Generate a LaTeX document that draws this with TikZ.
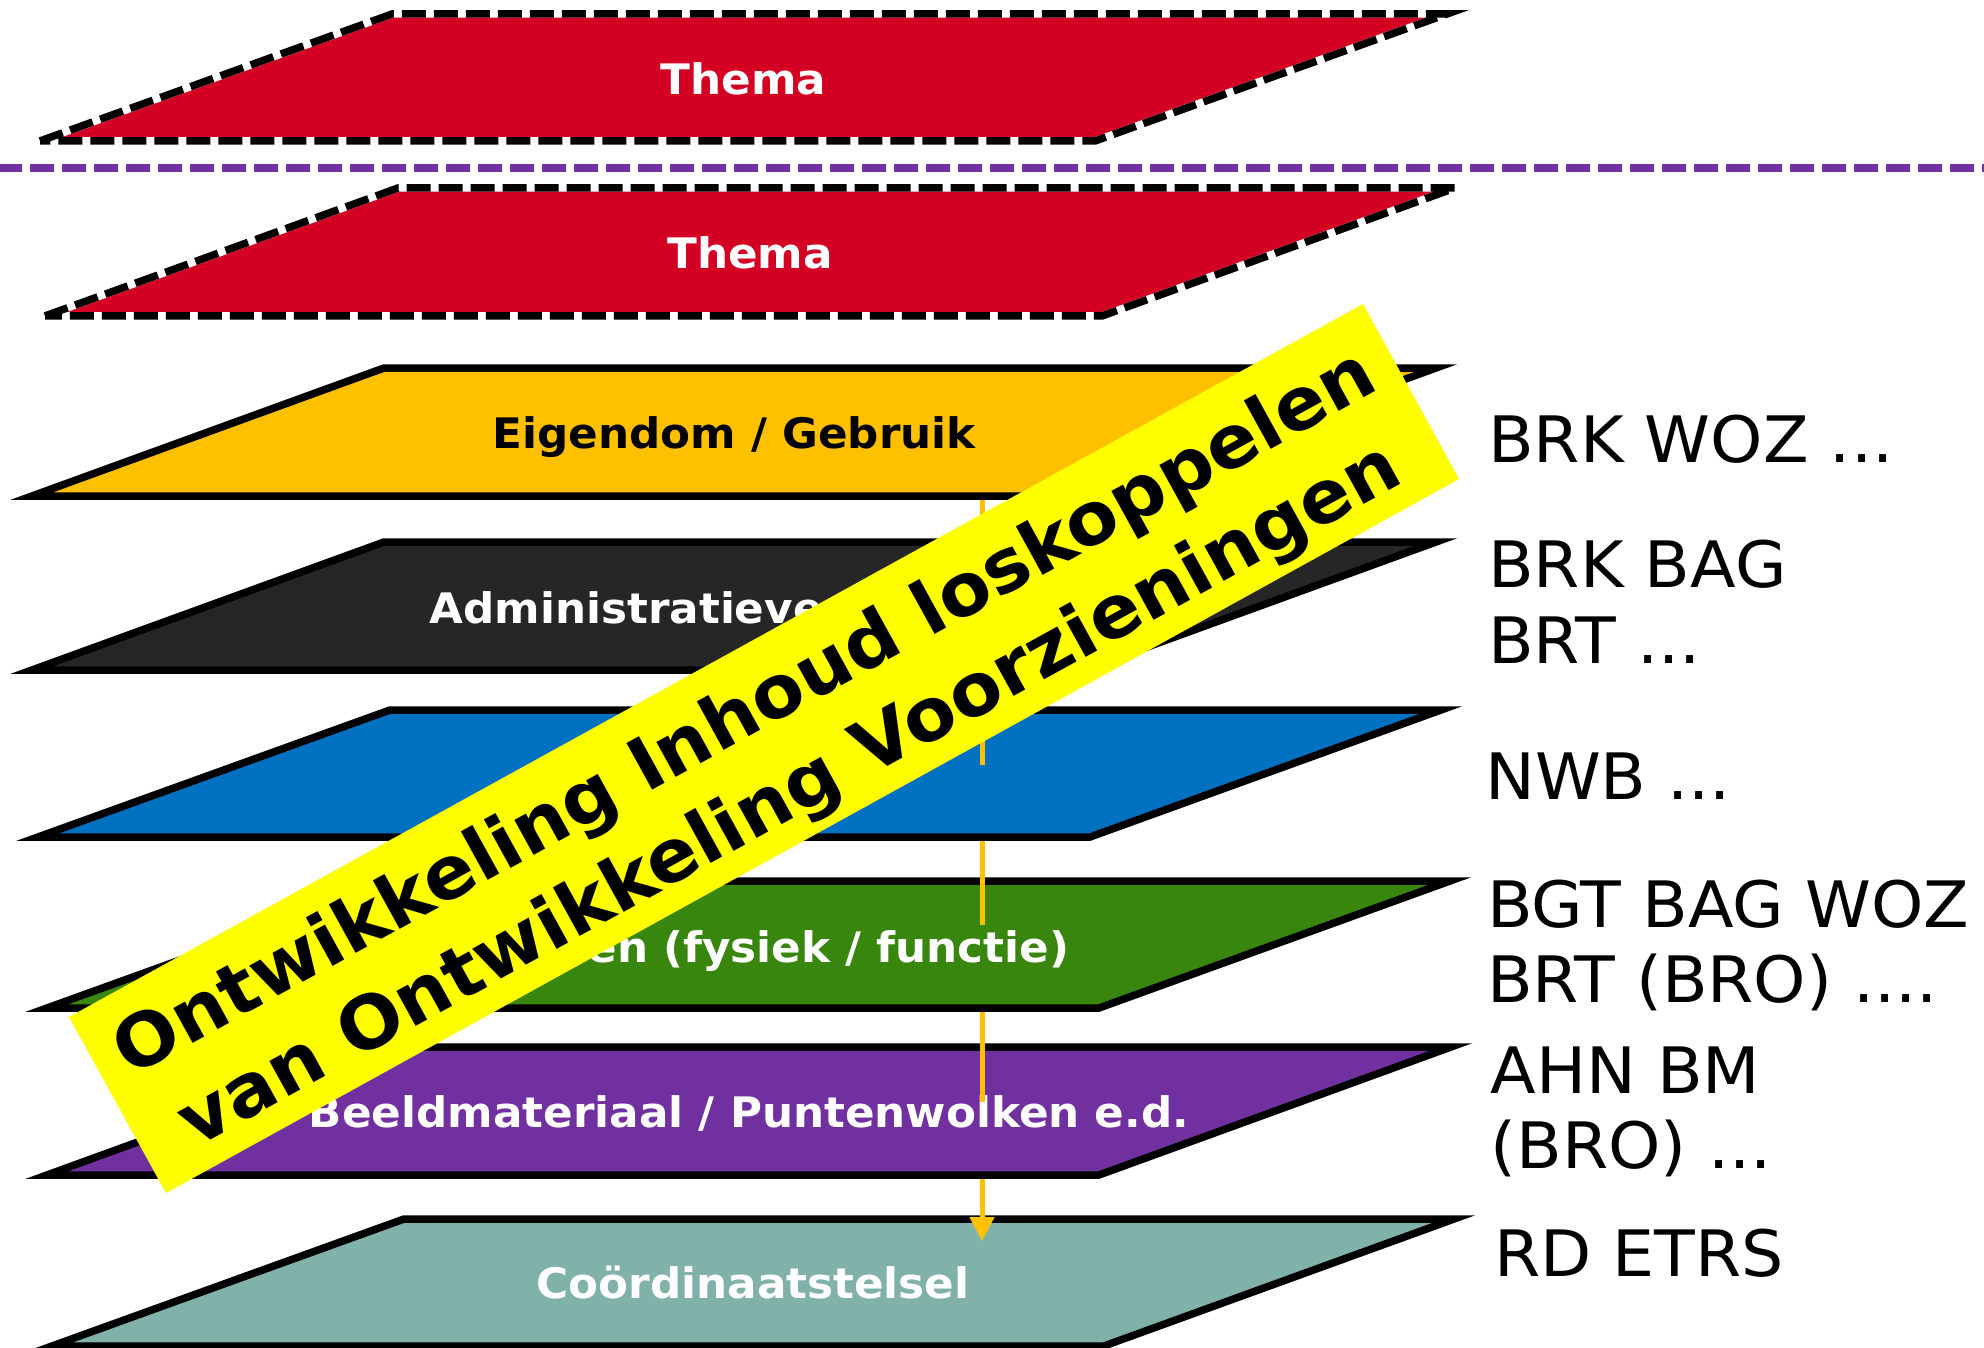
\documentclass[tikz,border=0pt]{standalone}
\usepackage{fontspec}
\setmainfont{DejaVu Sans}
\newfontfamily\widefont[FakeStretch=1.04]{DejaVu Sans}
\usetikzlibrary{arrows.meta}
\definecolor{themared}{HTML}{D40024}
\definecolor{eigorange}{HTML}{FFC000}
\definecolor{admdark}{HTML}{262626}
\definecolor{netblue}{HTML}{0070C0}
\definecolor{objgreen}{HTML}{38860E}
\definecolor{beeldpurple}{HTML}{7030A0}
\definecolor{coordteal}{HTML}{80B2A9}
\definecolor{banneryellow}{HTML}{FFFF00}
\begin{document}
\begin{tikzpicture}[x=1pt,y=-1pt,
  layer/.style={draw=black, line width=7.5pt, line join=miter},
  dashlayer/.style={fill=themared, draw=white, line width=7.5pt, line join=miter,
    postaction={draw=black, line width=7.5pt, line join=miter, dash pattern=on 24pt off 8pt}},
  lbl/.style={font=\widefont\bfseries\fontsize{42}{50}\selectfont, text=white, anchor=base, inner sep=0pt},
  rtxt/.style={font=\widefont\fontsize{64}{76.5}\selectfont, anchor=base west, inner sep=0pt},
  sepline/.style={draw=beeldpurple, line width=8pt, dash pattern=on 24pt off 8pt, dash phase=2pt},
  flow/.style={draw=eigorange, line width=5pt},
  bannertxt/.style={font=\widefont\bfseries\fontsize{73}{90}\selectfont, anchor=base, inner sep=0pt, rotate=28.86},
]
\useasboundingbox (0,0) rectangle (1984,1348);

% layers
\path[dashlayer] (40,141) -- (392,14) -- (1447,14) -- (1095,141) -- cycle;
\path[dashlayer] (45,316) -- (398,188) -- (1455,188) -- (1102,316) -- cycle;
\filldraw[layer, fill=eigorange] (32,496) -- (384,368) -- (1436,368) -- (1084,496) -- cycle;
\filldraw[layer, fill=admdark] (32,670) -- (384,542) -- (1436,542) -- (1084,670) -- cycle;
\filldraw[layer, fill=netblue] (38,837) -- (390,710) -- (1441,710) -- (1090,837) -- cycle;
\filldraw[layer, fill=objgreen] (47,1008) -- (399,881) -- (1450,881) -- (1099,1008) -- cycle;
\filldraw[layer, fill=beeldpurple] (47,1175) -- (399,1047) -- (1451,1047) -- (1099,1175) -- cycle;
\filldraw[layer, fill=coordteal] (52,1346) -- (404,1219) -- (1454,1219) -- (1104,1346) -- cycle;

% separator
\coordinate (sepL) at (0,168);
\coordinate (sepR) at (1984,168);
\draw[sepline] (sepL) -- (sepR);

% layer labels
\node[lbl] (thema1) at (743.5,95) {Thema};
\node[lbl] (thema2) at (750,269) {Thema};
\node[lbl, text=black] (eig) at (734,448) {Eigendom / Gebruik};
\node[lbl] (adm) at (734,623) {Administratieve Indeling};
\node[lbl] (obj) at (748.5,962) {Objecten (fysiek / functie)};
\node[lbl] (beeld) at (749,1127) {Beeldmateriaal / Puntenwolken e.d.};
\node[lbl] (coord) at (753,1298) {Coördinaatstelsel};

% flow arrow segments
\coordinate (f1a) at (982,500);
\coordinate (f1b) at (982,765);
\coordinate (f2a) at (982,841);
\coordinate (f2b) at (982,925);
\coordinate (f3a) at (982,1012);
\coordinate (f3b) at (982,1102);
\coordinate (f4a) at (982,1179);
\coordinate (f4b) at (982,1241);
\draw[flow] (f1a) -- (f1b);
\draw[flow] (f2a) -- (f2b);
\draw[flow] (f3a) -- (f3b);
\draw[flow, -{Triangle[width=24pt,length=24pt]}] (f4a) -- (f4b);

% banner
\fill[banneryellow] (69,1017) -- (1363,304) -- (1459,479) -- (166,1193) -- cycle;
\node[bannertxt] (ban1) at (755.9,733.2) {Ontwikkeling Inhoud loskoppelen};
\node[bannertxt] (ban2) at (800.5,814.7) {van Ontwikkeling Voorzieningen};

% right-hand texts
\node[rtxt] (r1) at (1488,462) {BRK WOZ ...};
\node[rtxt] (r2) at (1488,587) {\vtop{\hbox{BRK BAG}\hbox{BRT ...}}};
\node[rtxt] (r3) at (1485,799) {NWB ...};
\node[rtxt] (r4) at (1487,927) {\vtop{\baselineskip=75.5pt\hbox{BGT BAG WOZ}\hbox{BRT (BRO) ....}}};
\node[rtxt] (r5) at (1490.5,1093) {\vtop{\baselineskip=75.5pt\hbox{AHN BM}\hbox{(BRO) ...}}};
\node[rtxt] (r6) at (1494,1276) {RD ETRS};
\end{tikzpicture}
\end{document}
